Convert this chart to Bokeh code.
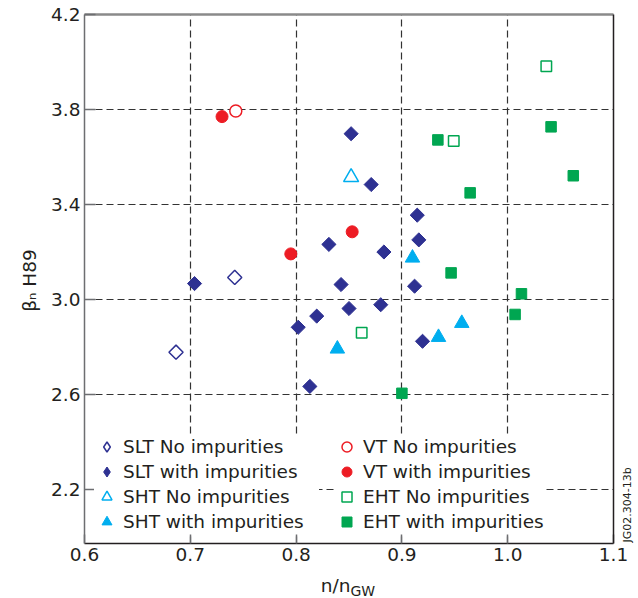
from math import pi
from bokeh.plotting import figure
from bokeh.models import (Range1d, FixedTicker, LinearAxis, Legend, LegendItem, Label, Grid,
                          PrintfTickFormatter)
from bokeh.embed import file_html
from bokeh.resources import INLINE

# ---- data ----
slt_no_x = [0.6865, 0.742]
slt_no_y = [2.778, 3.093]
slt_x = [0.704, 0.852, 0.871, 0.9145, 0.831, 0.916, 0.883, 0.8425, 0.912, 0.850, 0.880, 0.8195, 0.802, 0.9195, 0.813]
slt_y = [3.067, 3.698, 3.484, 3.355, 3.232, 3.251, 3.200, 3.063, 3.056, 2.962, 2.978, 2.930, 2.883, 2.824, 2.634]
sht_no_x = [0.852]
sht_no_y = [3.515]
sht_x = [0.910, 0.9566, 0.9346, 0.839]
sht_y = [3.175, 2.900, 2.841, 2.792]
vt_no_x = [0.743]
vt_no_y = [3.794]
vt_x = [0.730, 0.795, 0.853]
vt_y = [3.770, 3.192, 3.285]
eht_no_x = [1.0365, 0.949, 0.862]
eht_no_y = [3.982, 3.667, 2.860]
eht_x = [0.934, 1.041, 1.062, 0.9645, 0.9465, 1.013, 1.007, 0.900]
eht_y = [3.672, 3.727, 3.521, 3.449, 3.112, 3.024, 2.937, 2.605]

x_ticks = [0.6, 0.7, 0.8, 0.9, 1.0, 1.1]
y_ticks = [2.2, 2.6, 3.0, 3.4, 3.8, 4.2]
x_min, x_max = 0.6, 1.1
y_min, y_max = 1.9726, 4.2

labels_col1 = ["SLT No impurities", "SLT with impurities", "SHT No impurities", "SHT with impurities"]
labels_col2 = ["VT No impurities", "VT with impurities", "EHT No impurities", "EHT with impurities"]

NAVY = "#2E3192"
RED = "#ED1C24"
CYAN = "#00AEEF"
GREEN = "#00A651"
INK = "#231F20"
FONT = "DejaVu Sans"
FS = "18.5px"

p = figure(width=638, height=598, output_backend="svg", toolbar_location=None,
           x_range=Range1d(x_min, x_max), y_range=Range1d(y_min, y_max),
           min_border_left=84, min_border_right=25, min_border_top=14, min_border_bottom=55,
           x_axis_location=None, y_axis_location=None)
p.outline_line_color = None
p.background_fill_color = "white"
# drop the default grids; dashed grids on the fixed ticks are added below
p.center = [r for r in p.center if not isinstance(r, Grid)]

# axes
xax = LinearAxis(ticker=FixedTicker(ticks=x_ticks), formatter=PrintfTickFormatter(format="%.1f"))
yax = LinearAxis(ticker=FixedTicker(ticks=y_ticks), formatter=PrintfTickFormatter(format="%.1f"))
for ax, tin in ((xax, 9), (yax, 11)):
    ax.major_tick_in = tin
    ax.major_tick_out = 0
    ax.minor_tick_in = 0
    ax.minor_tick_out = 0
    ax.major_tick_line_color = "#6D6E71"
    ax.major_tick_line_width = 1.5
    ax.major_label_text_font = FONT
    ax.major_label_text_font_size = FS
    ax.major_label_text_color = INK
    ax.major_label_standoff = 4
    ax.axis_line_width = 1.5
xax.axis_line_color = INK
yax.axis_line_color = "#6D6E71"
p.add_layout(xax, "below")
p.add_layout(yax, "left")

tax = LinearAxis(ticker=FixedTicker(ticks=[]), axis_line_color="#8A8A8A", axis_line_width=2.5,
                 major_tick_in=0, major_tick_out=0, minor_tick_in=0, minor_tick_out=0,
                 major_label_standoff=0)
rax = LinearAxis(ticker=FixedTicker(ticks=[]), axis_line_color=INK, axis_line_width=1.5,
                 major_tick_in=0, major_tick_out=0, minor_tick_in=0, minor_tick_out=0,
                 major_label_standoff=0)
p.add_layout(tax, "above")
p.add_layout(rax, "right")

# grid
xg = Grid(dimension=0, ticker=FixedTicker(ticks=x_ticks[1:-1]))
yg = Grid(dimension=1, ticker=FixedTicker(ticks=y_ticks[:-1]))
for g in (xg, yg):
    g.grid_line_color = "#333333"
    g.grid_line_dash = "7 4"
    g.grid_line_width = 1.2
p.add_layout(xg, "center")
p.add_layout(yg, "center")

# data markers (diamonds drawn as 45-degree squares)
p.scatter(slt_no_x, slt_no_y, marker="square", angle=pi / 4, size=10,
          fill_color="white", line_color=NAVY, line_width=1.5)
p.scatter(slt_x, slt_y, marker="square", angle=pi / 4, size=10,
          fill_color=NAVY, line_color=NAVY, line_width=1)
r_sht_no = p.scatter(sht_no_x, sht_no_y, marker="triangle", size=15,
                     fill_color="white", line_color=CYAN, line_width=1.5)
r_sht = p.scatter(sht_x, sht_y, marker="triangle", size=14.5,
                  fill_color=CYAN, line_color=CYAN, line_width=1)
r_vt_no = p.scatter(vt_no_x, vt_no_y, marker="circle", size=12,
                    fill_color="white", line_color=RED, line_width=1.5)
r_vt = p.scatter(vt_x, vt_y, marker="circle", size=12,
                 fill_color=RED, line_color=RED, line_width=1)
r_eht_no = p.scatter(eht_no_x, eht_no_y, marker="square", size=10.5,
                     fill_color="white", line_color=GREEN, line_width=1.5)
r_eht = p.scatter(eht_x, eht_y, marker="square", size=10.5,
                  fill_color=GREEN, line_color=GREEN, line_width=1)

# hidden diamond renderers of the SLT series, used only for the legend swatches
sw_slt_no = p.scatter(slt_no_x, slt_no_y, marker="diamond", visible=False,
                      fill_color="white", line_color=NAVY, line_width=1.5)
sw_slt = p.scatter(slt_x, slt_y, marker="diamond", visible=False,
                   fill_color=NAVY, line_color=NAVY, line_width=1)

def make_legend(labels, renderers, loc, label_width):
    return Legend(items=[LegendItem(label=l, renderers=[r]) for l, r in zip(labels, renderers)],
                  location=loc, orientation="vertical", click_policy="none",
                  glyph_width=25, glyph_height=25, spacing=0, padding=7,
                  label_standoff=4, label_width=label_width, label_height=20,
                  label_text_font=FONT, label_text_font_size=FS, label_text_color=INK,
                  background_fill_color="white", background_fill_alpha=1.0,
                  border_line_color=None, margin=0)

p.add_layout(make_legend(labels_col1, [sw_slt_no, sw_slt, r_sht_no, r_sht], (10, 9), 196), "center")
p.add_layout(make_legend(labels_col2, [r_vt_no, r_vt, r_eht_no, r_eht], (250, 9), 20), "center")

# axis titles and figure code: Labels in the side panels (not clipped to the frame)
def lab(side, x, y, xo, yo, text, size=FS, angle=0.0, align="left"):
    p.add_layout(Label(x=x, y=y, x_offset=xo, y_offset=yo, text=text, angle=angle,
                       text_align=align, text_baseline="alphabetic", text_font=FONT,
                       text_font_size=size, text_color=INK), side)

lab("left", x_min, 3.08, -55, 0, "β\u2099 H89", angle=pi / 2, align="center")
lab("below", x_min, y_min, 266, -42, "n/n", align="right")
lab("left", x_min, y_min, 266, -47, "GW", size="14px")
lab("right", x_max, y_min, 14, 1, "JG02.304-13b", size="11px", angle=pi / 2)

open("out.html", "w").write(file_html(p, INLINE))
